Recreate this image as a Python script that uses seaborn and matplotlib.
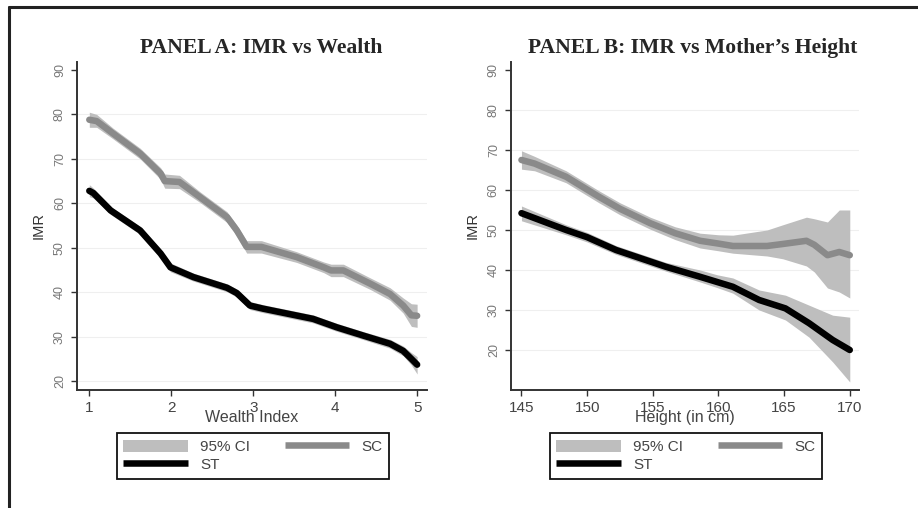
import numpy as np
import pandas as pd
import matplotlib
matplotlib.use("Agg")
import matplotlib.pyplot as plt
import seaborn as sns
from matplotlib.patches import Patch
from matplotlib.lines import Line2D

# Panel A: IMR by wealth index
wealth_sc = [1.0, 1.09, 1.29, 1.62, 1.87, 1.92, 2.1, 2.35, 2.68, 2.8, 2.92, 3.1, 3.53, 3.86, 3.95, 4.1, 4.43, 4.67, 4.83, 4.93, 5.0]
imr_sc_a = [78.8, 78.5, 75.7, 71.2, 66.7, 65.0, 64.8, 61.4, 56.9, 53.9, 50.2, 50.2, 47.9, 45.6, 44.9, 44.9, 41.9, 39.6, 37.0, 34.8, 34.7]
imr_sc_a_hi = [80.5, 80.0, 76.9, 72.4, 68.0, 66.6, 66.3, 62.6, 58.1, 55.1, 51.6, 51.6, 49.1, 46.8, 46.3, 46.3, 43.2, 41.0, 38.7, 37.4, 37.3]
imr_sc_a_lo = [77.1, 77.1, 74.5, 70.0, 65.4, 63.4, 63.3, 60.2, 55.7, 52.7, 48.8, 48.8, 46.7, 44.4, 43.5, 43.5, 40.6, 38.2, 35.3, 32.3, 32.1]

wealth_st = [1.0, 1.05, 1.26, 1.62, 1.87, 1.99, 2.27, 2.68, 2.8, 2.96, 3.12, 3.73, 4.02, 4.35, 4.67, 4.83, 4.93, 5.0]
imr_st_a = [62.8, 62.3, 58.4, 53.9, 48.7, 45.6, 43.4, 41.0, 39.8, 37.0, 36.3, 34.0, 32.1, 30.2, 28.4, 26.8, 25.0, 23.7]
imr_st_a_hi = [64.2, 63.4, 59.3, 54.8, 49.7, 46.6, 44.3, 41.9, 40.7, 37.9, 37.2, 34.9, 33.0, 31.1, 29.4, 27.9, 26.4, 25.5]
imr_st_a_lo = [61.5, 61.2, 57.5, 53.0, 47.7, 44.6, 42.5, 40.1, 38.9, 36.1, 35.4, 33.1, 31.2, 29.3, 27.4, 25.7, 23.6, 21.6]

# Panel B: IMR by mother's height (cm)
height_sc = [145, 146, 148.4, 150.9, 152.5, 154.8, 156.7, 158.6, 160, 161.1, 163.7, 164.9, 166.7, 167.3, 168.3, 169.2, 170]
imr_sc_b = [67.5, 66.6, 63.3, 58.3, 55.3, 51.7, 49.2, 47.3, 46.6, 46.0, 46.0, 46.5, 47.3, 46.3, 43.7, 44.5, 43.7]
imr_sc_b_hi = [69.8, 68.4, 64.8, 59.8, 56.8, 53.2, 50.8, 49.2, 48.8, 48.7, 50.0, 51.3, 53.2, 52.8, 52.0, 55.0, 55.0]
imr_sc_b_lo = [65.2, 64.8, 61.8, 56.8, 53.8, 50.2, 47.6, 45.5, 44.8, 44.2, 43.5, 42.8, 41.0, 39.5, 35.5, 34.5, 33.0]

height_st = [145, 148.4, 150, 152.2, 156, 158.6, 159.9, 161.1, 163.1, 165.1, 166.9, 168.7, 170]
imr_st_b = [54.2, 50.0, 48.2, 45.0, 40.8, 38.3, 37.0, 35.8, 32.5, 30.4, 26.7, 22.5, 20.0]
imr_st_b_hi = [56.0, 51.3, 49.4, 46.1, 41.9, 40.0, 38.8, 38.0, 35.0, 33.7, 31.2, 28.7, 28.2]
imr_st_b_lo = [52.3, 48.8, 47.0, 43.9, 39.7, 37.0, 35.6, 34.2, 30.0, 27.5, 23.2, 17.0, 12.0]

y_ticks = [20, 30, 40, 50, 60, 70, 80, 90]
grid_vals = [20, 30, 40, 50, 60, 70, 80]
wealth_ticks = [1, 2, 3, 4, 5]
height_ticks = [145, 150, 155, 160, 165, 170]

SC_COLOR = "#8a8a8a"
ST_COLOR = "#000000"
CI_COLOR = "#bebebe"
TXT = "#444444"
LW = 4.7

sns.set_style("white")
plt.rcParams["font.family"] = ["Liberation Sans", "DejaVu Sans"]

fig = plt.figure(figsize=(9.18, 5.08), dpi=100)
ax_a = fig.add_axes([0.0839, 0.2323, 0.3812, 0.6457])
ax_b = fig.add_axes([0.5566, 0.2323, 0.3791, 0.6457])


def draw_panel(ax, x_sc, sc, sc_lo, sc_hi, x_st, st, st_lo, st_hi):
    ax.fill_between(x_sc, sc_lo, sc_hi, color=CI_COLOR, lw=0, zorder=2)
    ax.fill_between(x_st, st_lo, st_hi, color=CI_COLOR, lw=0, zorder=2)
    sns.lineplot(x=x_sc, y=sc, ax=ax, color=SC_COLOR, lw=LW, zorder=3,
                 sort=False, estimator=None)
    sns.lineplot(x=x_st, y=st, ax=ax, color=ST_COLOR, lw=LW, zorder=4,
                 sort=False, estimator=None)
    for g in grid_vals:
        ax.axhline(g, color="#efefef", lw=0.8, zorder=1)
    ax.set_yticks(y_ticks)
    ax.set_yticklabels([str(v) for v in y_ticks], rotation=90, va="center",
                       color="#777777", fontsize=9)
    ax.tick_params(axis="y", direction="out", length=4, width=1, color="#333333", pad=4, left=True)
    ax.tick_params(axis="x", direction="out", length=4, width=1, color="#333333", pad=4,
                   labelsize=11, labelcolor=TXT, bottom=True)
    ax.set_ylabel("IMR", fontsize=10.5, color="#333333", labelpad=6)
    for s in ["top", "right"]:
        ax.spines[s].set_visible(False)
    for s in ["left", "bottom"]:
        ax.spines[s].set_color("#333333")
        ax.spines[s].set_linewidth(1.4)


draw_panel(ax_a, wealth_sc, imr_sc_a, imr_sc_a_lo, imr_sc_a_hi,
           wealth_st, imr_st_a, imr_st_a_lo, imr_st_a_hi)
ax_a.set_xlim(0.85, 5.12)
ax_a.set_ylim(18, 91.8)
ax_a.set_xticks(wealth_ticks)
ax_a.set_xlabel("Wealth Index", fontsize=11.5, color=TXT, labelpad=-4)

draw_panel(ax_b, height_sc, imr_sc_b, imr_sc_b_lo, imr_sc_b_hi,
           height_st, imr_st_b, imr_st_b_lo, imr_st_b_hi)
ax_b.set_xlim(144.2, 170.7)
ax_b.set_ylim(10, 92)
ax_b.set_xticks(height_ticks)
ax_b.set_xlabel("Height (in cm)", fontsize=11.5, color=TXT, labelpad=-4)

fig.text(261 / 918, 0.905, "PANEL A: IMR vs Wealth", ha="center", va="center",
         family="Liberation Serif", fontweight="bold", fontsize=15.6)
fig.text(693 / 918, 0.905, "PANEL B: IMR vs Mother\u2019s Height", ha="center", va="center",
         family="Liberation Serif", fontweight="bold", fontsize=15.6)

handles = [Patch(facecolor=CI_COLOR, edgecolor="none"),
           Line2D([], [], color=ST_COLOR, lw=LW, solid_capstyle="butt"),
           Line2D([], [], color=SC_COLOR, lw=LW, solid_capstyle="butt")]
labels = ["95% CI", "ST", "SC"]
for ax, cx in [(ax_a, 253 / 918), (ax_b, 686 / 918)]:
    leg = ax.legend(handles, labels, ncol=2, loc="upper center",
                    bbox_to_anchor=(cx, 1 - 433 / 508), bbox_transform=fig.transFigure,
                    fontsize=11, frameon=True, fancybox=False, framealpha=1,
                    handlelength=4.2, handleheight=0.8, handletextpad=0.8,
                    columnspacing=2.3, labelspacing=0.25, borderpad=0.45,
                    borderaxespad=0)
    leg.get_frame().set_edgecolor("#111111")
    leg.get_frame().set_linewidth(1.3)
    for t in leg.get_texts():
        t.set_color(TXT)

# outer frame (top and left edges)
fig.add_artist(Line2D([9 / 918, 1.0], [1 - 7 / 508, 1 - 7 / 508], color="#222222", lw=2.2))
fig.add_artist(Line2D([9 / 918, 9 / 918], [0.0, 1 - 7 / 508], color="#222222", lw=2.2))

fig.savefig("out.png", dpi=100)
